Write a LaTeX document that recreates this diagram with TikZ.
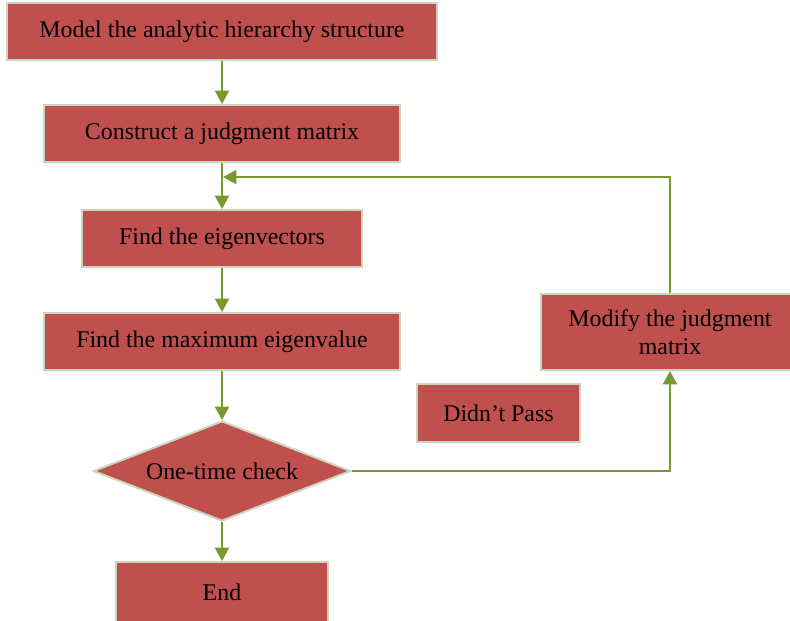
\documentclass[tikz,border=0pt]{standalone}
\usepackage{fontspec}
\setmainfont{Liberation Serif}
\usetikzlibrary{shapes.geometric,arrows.meta}
\definecolor{boxred}{HTML}{C0504D}
\definecolor{boxline}{HTML}{CBD4BC}
\definecolor{flowgreen}{HTML}{789A2C}
\begin{document}
\begin{tikzpicture}[x=0.025cm, y=-0.025cm,
		box/.style={draw=boxline, line width=1.4pt, fill=boxred, minimum height=1.425cm, inner sep=2pt, align=center, font=\fontsize{17}{20}\selectfont},
		flow/.style={draw=flowgreen, line width=1.4pt, -{Triangle[length=9.5pt, width=10pt]}}]
	\useasboundingbox (0,0) rectangle (790,620);
	\clip (0,0) rectangle (790,620);
		% main chain
		\node[box, minimum width=10.725cm] (model) at (222,31.5) {Model the analytic hierarchy structure};
		\node[box, minimum width=8.9cm] (construct) at (222,133.5) {Construct a judgment matrix};
		\node[box, minimum width=6.975cm] (eigvec) at (222,238.5) {Find the eigenvectors};
		\node[box, minimum width=8.9cm] (maxeig) at (222,341.5) {Find the maximum eigenvalue};
		\node[box, diamond, aspect=2.57, minimum width=6.425cm, minimum height=2.5cm] (check) at (222,471) {One-time check};
		\node[box, minimum width=5.275cm, minimum height=1.5cm] (endbox) at (222,592) {End};
		% feedback
		\node[box, minimum width=6.45cm, minimum height=1.9cm] (modify) at (670,332) {Modify the judgment\\matrix};
		\node[box, minimum width=4.075cm, minimum height=1.45cm] (pass) at (498.5,413) {Didn't Pass};
		\coordinate (loop) at (223,177);

		\foreach \a/\b in {model/construct, construct/eigvec, eigvec/maxeig, maxeig/check, check/endbox}
			\draw[flow] (\a.south) -- (\a.south |- \b.north);
		\draw[flow] (check.east) -| (modify.south);
		\draw[flow] (modify.north) |- (loop);

\end{tikzpicture}
\end{document}
